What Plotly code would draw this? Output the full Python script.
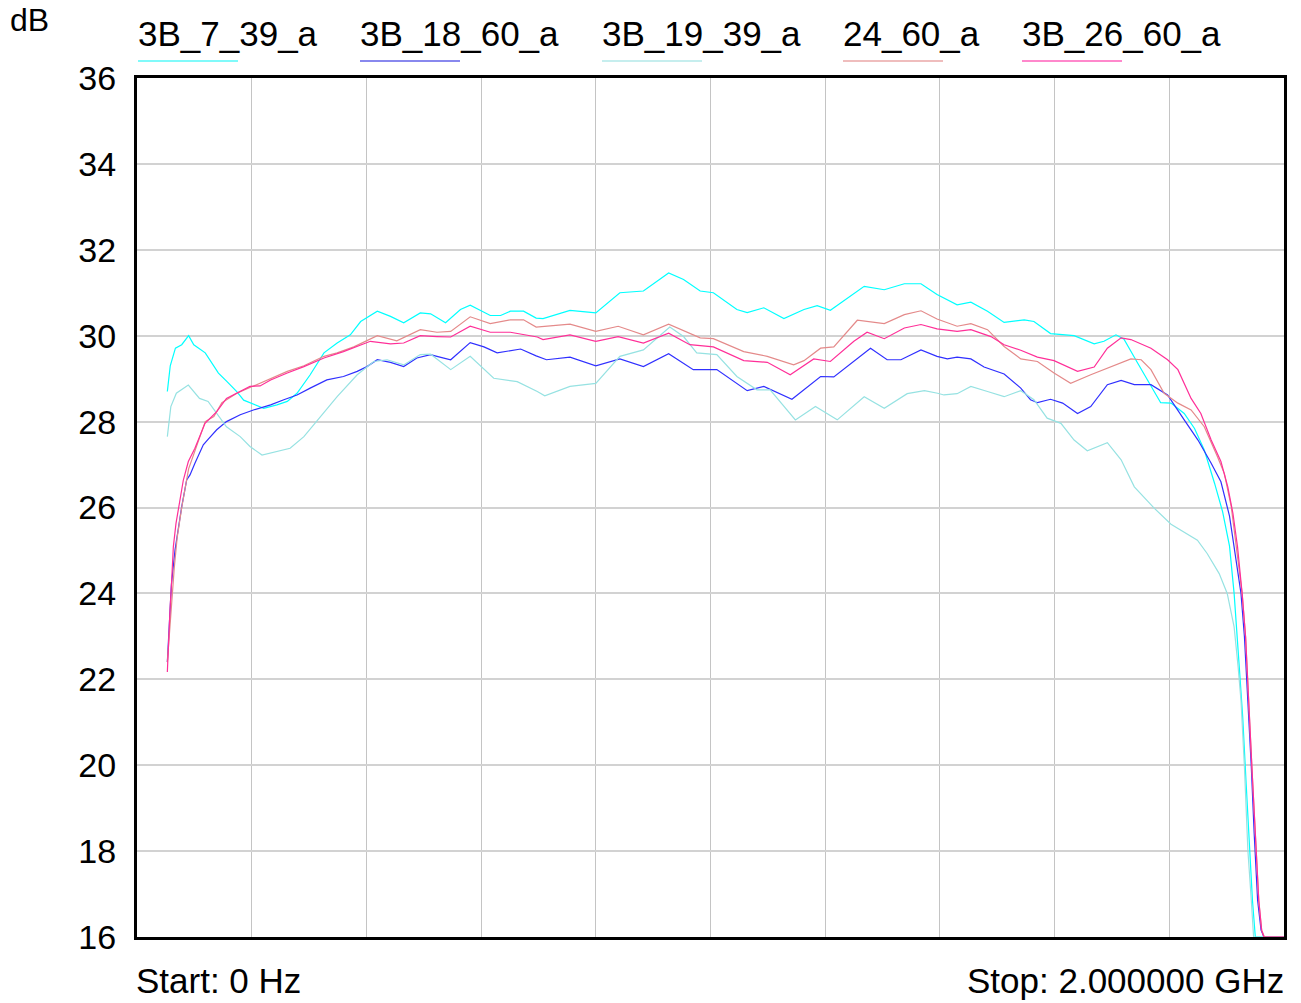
import plotly.graph_objects as go

# ---- frequency response traces (GHz, dB) ----
series_names = ["3B_7_39_a", "3B_18_60_a", "3B_19_39_a", "24_60_a", "3B_26_60_a"]

f_7_39 = [0.0529, 0.058, 0.067, 0.078, 0.090, 0.099, 0.119, 0.142, 0.157, 0.174, 0.186, 0.2, 0.221, 0.244,
          0.262, 0.279, 0.302, 0.326, 0.349, 0.372, 0.39, 0.419, 0.442, 0.465, 0.494, 0.512, 0.538, 0.564,
          0.581, 0.616, 0.634, 0.651, 0.674, 0.696, 0.708, 0.755, 0.8, 0.842, 0.883, 0.927, 0.953, 0.982,
          1.005, 1.046, 1.064, 1.093, 1.128, 1.163, 1.186, 1.209, 1.268, 1.303, 1.338, 1.367, 1.395, 1.430,
          1.454, 1.483, 1.512, 1.547, 1.564, 1.593, 1.634, 1.669, 1.686, 1.707, 1.721, 1.745, 1.768, 1.785,
          1.803, 1.826, 1.844, 1.861, 1.879, 1.893, 1.905, 1.913, 1.922, 1.928, 1.934, 1.940, 1.945, 1.950, 2.0]
db_7_39 = [28.70, 29.3, 29.71, 29.79, 30.0, 29.79, 29.6, 29.13, 28.93, 28.70, 28.5, 28.43, 28.31, 28.39,
           28.47, 28.66, 29.09, 29.6, 29.83, 30.02, 30.33, 30.57, 30.45, 30.30, 30.53, 30.51, 30.30, 30.61,
           30.71, 30.47, 30.47, 30.57, 30.57, 30.41, 30.40, 30.59, 30.53, 31.0, 31.04, 31.46, 31.31, 31.04,
           31.0, 30.61, 30.54, 30.65, 30.40, 30.61, 30.70, 30.59, 31.15, 31.07, 31.21, 31.21, 30.96, 30.72,
           30.78, 30.57, 30.31, 30.37, 30.33, 30.05, 30.0, 29.81, 29.87, 30.02, 29.92, 29.36, 28.82, 28.44,
           28.43, 28.19, 27.84, 27.34, 26.56, 25.9, 25.1, 24.0, 22.29, 21.12, 19.57, 18.02, 16.85, 16.0, 16.0]

f_18_60 = [0.0529, 0.056, 0.060, 0.0663, 0.072, 0.078, 0.0866, 0.0924, 0.101, 0.1156, 0.1243, 0.139, 0.156,
           0.180, 0.203, 0.233, 0.256, 0.279, 0.302, 0.331, 0.36, 0.384, 0.401, 0.419, 0.442, 0.465, 0.488,
           0.512, 0.523, 0.547, 0.581, 0.605, 0.628, 0.669, 0.696, 0.714, 0.755, 0.8, 0.842, 0.883, 0.927,
           0.970, 1.011, 1.064, 1.093, 1.142, 1.192, 1.215, 1.279, 1.308, 1.332, 1.367, 1.395, 1.413, 1.430,
           1.454, 1.477, 1.512, 1.541, 1.558, 1.570, 1.593, 1.614, 1.640, 1.663, 1.692, 1.716, 1.739, 1.768,
           1.797, 1.826, 1.850, 1.873, 1.890, 1.905, 1.916, 1.925, 1.931, 1.937, 1.943, 1.948, 1.954, 1.960,
           1.965, 2.0]
db_18_60 = [22.4, 23.2, 24.2, 25.01, 25.55, 26.02, 26.64, 26.76, 27.03, 27.46, 27.59, 27.81, 28.0,
            28.16, 28.27, 28.39, 28.51, 28.62, 28.78, 28.97, 29.05, 29.17, 29.28, 29.44, 29.38, 29.28, 29.48,
            29.56, 29.52, 29.44, 29.84, 29.74, 29.60, 29.69, 29.53, 29.44, 29.50, 29.30, 29.46, 29.28, 29.58,
            29.21, 29.21, 28.72, 28.82, 28.52, 29.05, 29.04, 29.71, 29.44, 29.44, 29.67, 29.52, 29.46, 29.50,
            29.46, 29.27, 29.11, 28.78, 28.51, 28.44, 28.52, 28.43, 28.19, 28.35, 28.86, 28.96, 28.86, 28.86,
            28.62, 28.04, 27.57, 27.03, 26.6, 25.8, 24.85, 24.0, 22.99, 21.51, 19.96, 18.41, 16.85, 16.16,
            16.0, 16.0]

f_19_39 = [0.0529, 0.059, 0.0686, 0.0895, 0.109, 0.124, 0.139, 0.156, 0.18, 0.197, 0.218, 0.244, 0.267,
           0.291, 0.32, 0.349, 0.384, 0.413, 0.436, 0.465, 0.494, 0.512, 0.547, 0.581, 0.622, 0.663, 0.698,
           0.711, 0.755, 0.8, 0.842, 0.883, 0.929, 0.953, 0.976, 1.011, 1.046, 1.081, 1.104, 1.148, 1.183,
           1.221, 1.268, 1.303, 1.343, 1.373, 1.396, 1.407, 1.430, 1.454, 1.483, 1.512, 1.541, 1.564, 1.587,
           1.611, 1.634, 1.657, 1.692, 1.716, 1.739, 1.774, 1.803, 1.849, 1.866, 1.887, 1.901, 1.913, 1.920,
           1.925, 1.931, 1.937, 1.943, 1.947, 2.0]
db_19_39 = [27.65, 28.35, 28.66, 28.85, 28.54, 28.47, 28.19, 27.88, 27.65, 27.42, 27.22, 27.30, 27.38,
            27.65, 28.12, 28.58, 29.09, 29.40, 29.44, 29.32, 29.56, 29.57, 29.21, 29.52, 29.01, 28.93, 28.70,
            28.60, 28.82, 28.89, 29.52, 29.67, 30.20, 29.98, 29.60, 29.56, 29.05, 28.74, 28.74, 28.04, 28.35,
            28.04, 28.58, 28.31, 28.65, 28.72, 28.66, 28.62, 28.65, 28.82, 28.70, 28.58, 28.72, 28.51, 28.08,
            27.96, 27.57, 27.32, 27.51, 27.11, 26.48, 25.98, 25.61, 25.24, 24.93, 24.46, 24.0, 23.22, 22.29,
            21.51, 19.96, 18.02, 16.85, 16.0, 16.0]

f_24_60 = [0.0529, 0.056, 0.060, 0.065, 0.070, 0.078, 0.09, 0.105, 0.119, 0.134, 0.148, 0.174, 0.203,
           0.233, 0.262, 0.291, 0.326, 0.349, 0.378, 0.419, 0.453, 0.494, 0.523, 0.547, 0.581, 0.616, 0.651,
           0.674, 0.696, 0.755, 0.8, 0.839, 0.883, 0.927, 0.982, 1.005, 1.058, 1.099, 1.145, 1.163, 1.192,
           1.215, 1.256, 1.303, 1.338, 1.367, 1.395, 1.430, 1.454, 1.483, 1.512, 1.541, 1.57, 1.599, 1.628,
           1.663, 1.698, 1.733, 1.751, 1.768, 1.791, 1.815, 1.838, 1.861, 1.884, 1.896, 1.908, 1.917, 1.927,
           1.933, 1.938, 1.944, 1.950, 1.956, 1.961, 1.966, 2.0]
db_24_60 = [22.4, 23.0, 23.8, 24.6, 25.3, 26.0, 26.9, 27.45, 28.0, 28.12, 28.44, 28.66, 28.83,
            29.01, 29.17, 29.30, 29.52, 29.60, 29.74, 30.0, 29.88, 30.14, 30.08, 30.10, 30.44, 30.28, 30.37,
            30.37, 30.20, 30.27, 30.10, 30.22, 30.02, 30.27, 29.95, 29.93, 29.63, 29.52, 29.32, 29.42, 29.71,
            29.74, 30.36, 30.28, 30.49, 30.58, 30.39, 30.22, 30.28, 30.14, 29.75, 29.46, 29.40, 29.13, 28.89,
            29.09, 29.28, 29.46, 29.44, 29.21, 28.66, 28.43, 28.27, 27.88, 27.18, 26.79, 26.02, 25.08, 24.0,
            22.99, 21.51, 19.96, 18.41, 16.85, 16.16, 16.0, 16.0]

f_26_60 = [0.0529, 0.0546, 0.0575, 0.0605, 0.0634, 0.068, 0.0738, 0.0808, 0.0895, 0.101, 0.1186, 0.139,
           0.156, 0.1796, 0.197, 0.2145, 0.233, 0.262, 0.291, 0.326, 0.36, 0.407, 0.442, 0.465, 0.494, 0.523,
           0.547, 0.581, 0.616, 0.651, 0.698, 0.708, 0.755, 0.8, 0.839, 0.883, 0.927, 0.964, 1.005, 1.058,
           1.099, 1.139, 1.18, 1.209, 1.25, 1.273, 1.303, 1.338, 1.367, 1.395, 1.430, 1.454, 1.489, 1.512,
           1.541, 1.57, 1.599, 1.640, 1.669, 1.692, 1.716, 1.733, 1.768, 1.797, 1.815, 1.838, 1.855, 1.873,
           1.890, 1.902, 1.911, 1.919, 1.927, 1.933, 1.938, 1.944, 1.950, 1.956, 1.961, 1.965, 2.0]
db_26_60 = [22.17, 22.83, 23.61, 24.31, 25.09, 25.63, 26.10, 26.64, 27.07, 27.38, 27.96, 28.23,
            28.54, 28.70, 28.82, 28.83, 28.97, 29.13, 29.28, 29.48, 29.63, 29.87, 29.81, 29.83, 30.0, 29.98,
            29.97, 30.22, 30.08, 30.08, 29.97, 29.91, 30.02, 29.87, 29.98, 29.83, 30.06, 29.79, 29.74, 29.42,
            29.38, 29.09, 29.46, 29.40, 29.87, 30.08, 29.93, 30.18, 30.26, 30.16, 30.10, 30.14, 29.98, 29.79,
            29.66, 29.50, 29.42, 29.17, 29.27, 29.71, 29.95, 29.91, 29.71, 29.44, 29.21, 28.54, 28.19, 27.57,
            27.07, 26.48, 25.86, 25.08, 24.0, 22.99, 21.51, 19.96, 18.41, 16.85, 16.16, 16.0, 16.0]

y_ticks = [16, 18, 20, 22, 24, 26, 28, 30, 32, 34, 36]
start_label = "Start: 0 Hz"
stop_label = "Stop: 2.000000 GHz"
unit_label = "dB"

freqs = [f_7_39, f_18_60, f_19_39, f_24_60, f_26_60]
levels = [db_7_39, db_18_60, db_19_39, db_24_60, db_26_60]

# ---- styling ----
trace_colors = ["#00ffff", "#3030ff", "#96e2e2", "#e48a8a", "#ff2f98"]
legend_colors = ["#80fafa", "#8888ee", "#c6eeee", "#efbdbd", "#ff88cc"]
FONT = "Liberation Sans, Arial, sans-serif"
TXT = 35

W, H = 1301, 1003
L, R, T, B = 137, 17, 78, 66
PW, PH = W - L - R, H - T - B


def px(x):
    return (x - L) / PW


def py(y):
    return (H - B - y) / PH


fig = go.Figure()
for name, fx, lv, col in zip(series_names, freqs, levels, trace_colors):
    assert len(fx) == len(lv)
    fig.add_trace(go.Scatter(x=fx, y=lv, mode="lines", name=name,
                             line=dict(color=col, width=1.2), showlegend=False))

# legend row drawn as labels with coloured underlines
legend_x = [136, 358, 600, 841, 1020]
for name, x0, col in zip(series_names, legend_x, legend_colors):
    fig.add_annotation(x=px(x0), y=py(33), xref="paper", yref="paper", text=name,
                       showarrow=False, xanchor="left", yanchor="middle",
                       font=dict(family=FONT, size=TXT, color="black"))
    fig.add_shape(type="line", xref="paper", yref="paper",
                  x0=px(x0 + 2), x1=px(x0 + 102), y0=py(61), y1=py(61),
                  line=dict(color=col, width=2))

fig.add_annotation(x=px(8), y=py(20), xref="paper", yref="paper", text=unit_label,
                   showarrow=False, xanchor="left", yanchor="middle",
                   font=dict(family=FONT, size=32, color="black"))
fig.add_annotation(x=px(134), y=py(980), xref="paper", yref="paper", text=start_label,
                   showarrow=False, xanchor="left", yanchor="middle",
                   font=dict(family=FONT, size=TXT, color="black"))
fig.add_annotation(x=px(1286), y=py(980), xref="paper", yref="paper", text=stop_label,
                   showarrow=False, xanchor="right", yanchor="middle",
                   font=dict(family=FONT, size=TXT, color="black"))

fig.update_layout(
    width=W, height=H,
    margin=dict(l=L, r=R, t=T, b=B, pad=0),
    paper_bgcolor="white", plot_bgcolor="white",
    font=dict(family=FONT, color="black"),
    xaxis=dict(range=[0, 2], dtick=0.2, tick0=0, showticklabels=False, ticks="",
               showgrid=True, gridcolor="#c4c4c4", gridwidth=1, zeroline=False,
               showline=True, linecolor="black", linewidth=3, mirror=True, fixedrange=True),
    yaxis=dict(range=[16, 36], tickvals=y_ticks, ticktext=[str(v) for v in y_ticks],
               ticks="", ticklabelstandoff=11, tickfont=dict(family=FONT, size=34, color="black"),
               showgrid=True, gridcolor="#d2d2d2", gridwidth=1.5, zeroline=False,
               showline=True, linecolor="black", linewidth=3, mirror=True, fixedrange=True),
)

fig.write_html("out.html")
